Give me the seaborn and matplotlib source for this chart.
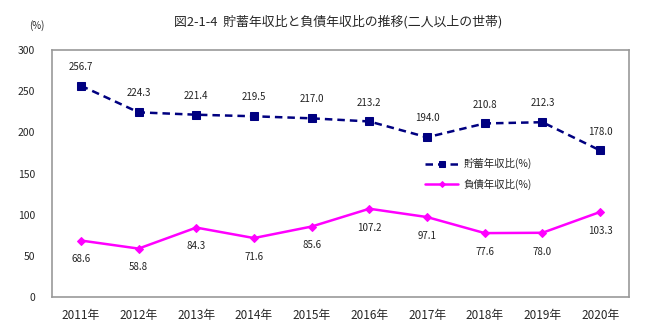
import matplotlib
matplotlib.use("Agg")
import matplotlib.pyplot as plt
import seaborn as sns
import pandas as pd
import numpy as np

years = ["2011年", "2012年", "2013年", "2014年", "2015年", "2016年", "2017年", "2018年", "2019年", "2020年"]
savings = [256.7, 224.3, 221.4, 219.5, 217.0, 213.2, 194.0, 210.8, 212.3, 178.0]
debt = [68.6, 58.8, 84.3, 71.6, 85.6, 107.2, 97.1, 77.6, 78.0, 103.3]
series_names = ["貯蓄年収比(%)", "負債年収比(%)"]
yticks = [0, 50, 100, 150, 200, 250, 300]

sns.set_theme(style="white")
plt.rcParams['font.family'] = ['Noto Sans CJK JP', 'DejaVu Sans']

df = pd.DataFrame({"x": list(range(len(years))) * 2,
                   "v": savings + debt,
                   "s": [series_names[0]] * len(years) + [series_names[1]] * len(years)})

fig = plt.figure(figsize=(6.6, 3.35), dpi=100)
ax = fig.add_axes([52/660, 1-297/335, (629-52)/660, (297-50)/335])

sns.lineplot(data=df[df.s == series_names[0]], x="x", y="v", ax=ax, color="#000080",
             linestyle=(0, (3, 2)), linewidth=1.8, marker="s", markersize=5.5,
             markeredgecolor="#000080", label=series_names[0])
sns.lineplot(data=df[df.s == series_names[1]], x="x", y="v", ax=ax, color="#FF00FF",
             linewidth=1.8, marker="D", markersize=4, markeredgecolor="#FF00FF",
             label=series_names[1])

for i, v in enumerate(savings):
    ax.annotate(f"{v:.1f}", (i, v), xytext=(0, 10), textcoords="offset points",
                ha="center", va="bottom", fontsize=7, color="#222222")
for i, v in enumerate(debt):
    ax.annotate(f"{v:.1f}", (i, v), xytext=(0, -10), textcoords="offset points",
                ha="center", va="top", fontsize=7, color="#222222")

ax.set_xlim(-0.5, len(years) - 0.5)
ax.set_ylim(0, 300)
ax.set_yticks(yticks)
ax.set_yticklabels([str(t) for t in yticks], fontsize=7.5)
ax.set_xticks(range(len(years)))
ax.set_xticklabels(years, fontsize=8.5)
ax.tick_params(axis="x", length=0, pad=9)
ax.tick_params(axis="y", length=0, pad=12)
ax.set_xticks(np.arange(0.5, len(years) - 1, 1), minor=True)
ax.tick_params(axis="x", which="minor", length=4, direction="in", color="#999999")
ax.set_xlabel("")
ax.set_ylabel("")
for sp in ax.spines.values():
    sp.set_color("#999999")
    sp.set_linewidth(1.2)

leg = ax.legend(loc="upper left", bbox_to_anchor=(0.63, 0.60), frameon=False,
                fontsize=7.5, handlelength=3.2, labelspacing=0.9, handletextpad=0.5,
                markerscale=0.75)

fig.text(338/660, 1-22/335, "図2-1-4  貯蓄年収比と負債年収比の推移(二人以上の世帯)",
         ha="center", va="center", fontsize=9.3)
fig.text(37/660, 1-26/335, "(%)", ha="center", va="center", fontsize=7)

fig.savefig("out.png", dpi=100)
